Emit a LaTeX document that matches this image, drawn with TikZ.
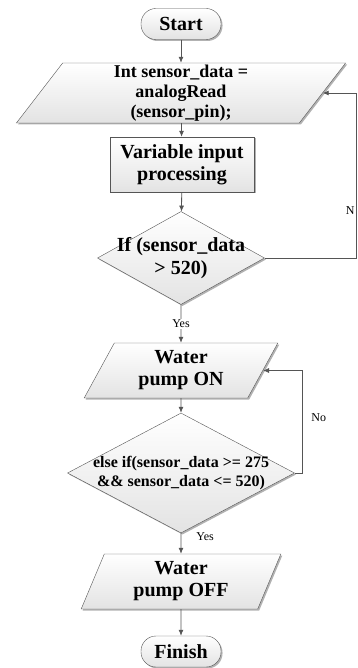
\documentclass[tikz,border=0pt]{standalone}
\usepackage{fontspec}
\setmainfont{Liberation Serif}
\usetikzlibrary{arrows.meta, shapes.geometric, shadows}
\definecolor{linegray}{RGB}{85,85,85}

\begin{document}
\begin{tikzpicture}[x=1pt, y=-1pt,
  font=\bfseries,
  shaded/.style={
    draw=linegray,
    top color=white,
    bottom color=gray!22,
    drop shadow={shadow xshift=1.5pt, shadow yshift=-1.5pt, fill=gray!60, opacity=1},
    align=center,
    inner sep=0pt
  },
  terminal/.style={shaded, rectangle, rounded corners=15pt,
    minimum width=80pt, minimum height=31pt, font=\bfseries\fontsize{20}{22}\selectfont},
  process/.style={shaded, rectangle, font=\bfseries\fontsize{20}{22}\selectfont},
  io/.style={shaded, trapezium, trapezium stretches=true},
  decision/.style={shaded, diamond},
  lbl/.style={font=\fontsize{12}{13}\selectfont, inner sep=1pt, text=black},
  line/.style={-{Latex[length=6pt, width=5pt]}, draw=linegray, thick}
  ]
\useasboundingbox (0,0) rectangle (357,668);

% Flow steps
\node[terminal] (start) at (181,24) {Start};
\node[io, trapezium left angle=65, trapezium right angle=115,
  minimum width=330pt, minimum height=60pt,
  font=\bfseries\fontsize{18}{20}\selectfont] (read) at (181,93)
  {Int sensor\_data =\\analogRead\\(sensor\_pin);};
\node[process, minimum width=144pt, minimum height=55pt] (proc) at (182,164.5)
  {Variable input\\processing};
\node[decision, minimum width=167pt, minimum height=93pt,
  label={[font=\bfseries\fontsize{20}{23}\selectfont, align=center]center:If (sensor\_data\\> 520)}]
  (check_high) at (181,258) {};
\node[io, trapezium left angle=64, trapezium right angle=116,
  minimum width=194pt, minimum height=55pt,
  font=\bfseries\fontsize{20}{22}\selectfont] (pump_on) at (181,370.5)
  {Water\\pump ON};
\node[decision, minimum width=227pt, minimum height=120pt,
  label={[font=\bfseries\fontsize{16}{19}\selectfont, align=center]center:else if(sensor\_data >= 275\\\&\& sensor\_data <= 520)}]
  (check_mid) at (181,473) {};
\node[io, trapezium left angle=70, trapezium right angle=110,
  minimum width=200pt, minimum height=55pt,
  font=\bfseries\fontsize{20}{22}\selectfont] (pump_off) at (181,581.5)
  {Water\\pump OFF};
\node[terminal] (finish) at (181,651.5) {Finish};

% Turning points of the loops
\coordinate (high_turn) at (356,258);
\coordinate (mid_turn) at (302,473);

% Arrows
\draw[line] (start) -- (read);
\draw[line] (read) -- (proc);
\draw[line] (proc) -- (check_high);
\draw[line] (check_high) -- node[lbl, fill=white, pos=0.5] {Yes} (pump_on);
\draw[line] (pump_on) -- (check_mid);
\draw[line] (check_mid) -- node[lbl, pos=0, anchor=west, xshift=14pt, yshift=-3pt] {Yes} (pump_off);
\draw[line] (pump_off) -- (finish);
\draw[line] (check_high.east) -- (high_turn) |- node[lbl, pos=0.145, anchor=east] {N} (read.east);
\draw[line] (check_mid.east) -- (mid_turn) |- node[lbl, pos=0.27, anchor=west, xshift=8pt] {No} (pump_on.east);

\end{tikzpicture}
\end{document}
